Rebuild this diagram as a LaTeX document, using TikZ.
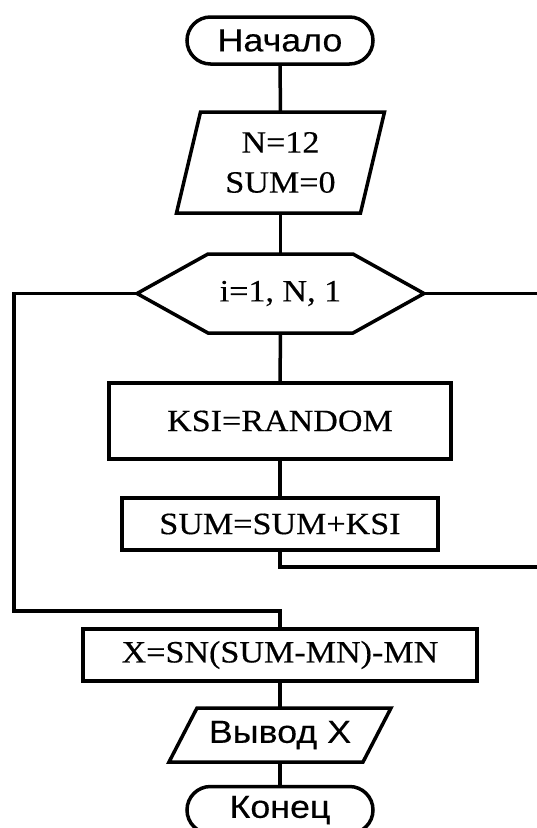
\documentclass[tikz,border=0pt]{standalone}
\usepackage{fontspec}
\setmainfont{Liberation Serif}[FakeStretch=1.1,FakeBold=0.4]
\newfontfamily\sansf{Liberation Sans}[FakeStretch=1.12,FakeBold=0.3]
\usetikzlibrary{shapes.misc}
\begin{document}
\begin{tikzpicture}[x=1pt,y=-1pt,
  line width=3.5pt,
  every node/.style={inner sep=0pt, outer sep=0pt},
  serif/.style={font=\fontsize{31}{40}\selectfont},
  sans/.style={font=\sansf\fontsize{32}{36}\selectfont},
  term/.style={draw, rounded rectangle, sans, minimum width=186pt, minimum height=47pt},
  procbox/.style={draw, rectangle, serif},
  conn/.style={line width=3.5pt, line join=miter}
]
\useasboundingbox (0,0) rectangle (537,828);

% Start
\node[term] (start) at (280,40.5) {Начало};

% Input parallelogram
\node[serif, align=center, minimum width=184pt, minimum height=101pt] (inp) at (280.5,162.5) {N=12\\SUM=0};
\draw[line join=miter] ([xshift=12pt]inp.north west) -- ([xshift=12pt]inp.north east)
  -- ([xshift=-12pt]inp.south east) -- ([xshift=-12pt]inp.south west) -- cycle;

% Loop hexagon
\node[serif, minimum width=287pt, minimum height=79pt] (loop) at (280.5,293.5) {i=1, N, 1};
\draw[line join=miter] (loop.west) -- ([xshift=71pt]loop.north west) -- ([xshift=-71pt]loop.north east)
  -- (loop.east) -- ([xshift=-71pt]loop.south east) -- ([xshift=71pt]loop.south west) -- cycle;

% Process boxes
\node[procbox, minimum width=342pt, minimum height=76pt] (ksi) at (280,421) {KSI=RANDOM};
\node[procbox, minimum width=316pt, minimum height=52pt] (sum) at (280,524) {SUM=SUM+KSI};
\node[procbox, minimum width=394pt, minimum height=52pt] (xbox) at (280,655) {X=SN(SUM-MN)-MN};

% Output parallelogram
\node[sans, minimum width=222pt, minimum height=54pt] (out) at (280,735) {Вывод X};
\draw[line join=miter] ([xshift=28pt]out.north west) -- (out.north east)
  -- ([xshift=-28pt]out.south east) -- (out.south west) -- cycle;

% End
\node[term] (stop) at (280,810) {Конец};

% Connectors
\coordinate (lcorner1) at (14,293.5);
\coordinate (lcorner2) at (14,611);
\coordinate (lcorner3) at (280,611);
\coordinate (rend1) at (537,293.5);
\coordinate (sumdown) at (280,567);
\coordinate (rend2) at (537,567);

\draw[conn] (start.south) -- (inp.north);
\draw[conn] (inp.south) -- (loop.north);
\draw[conn] (loop.south) -- (ksi.north);
\draw[conn] (ksi.south) -- (sum.north);
\draw[conn] (sum.south) -- (sumdown) -- (rend2);
\draw[conn] (loop.east) -- (rend1);
\draw[conn] (loop.west) -- (lcorner1) -- (lcorner2) -- (lcorner3) -- (xbox.north);
\draw[conn] (xbox.south) -- (out.north);
\draw[conn] (out.south) -- (stop.north);
\end{tikzpicture}
\end{document}
